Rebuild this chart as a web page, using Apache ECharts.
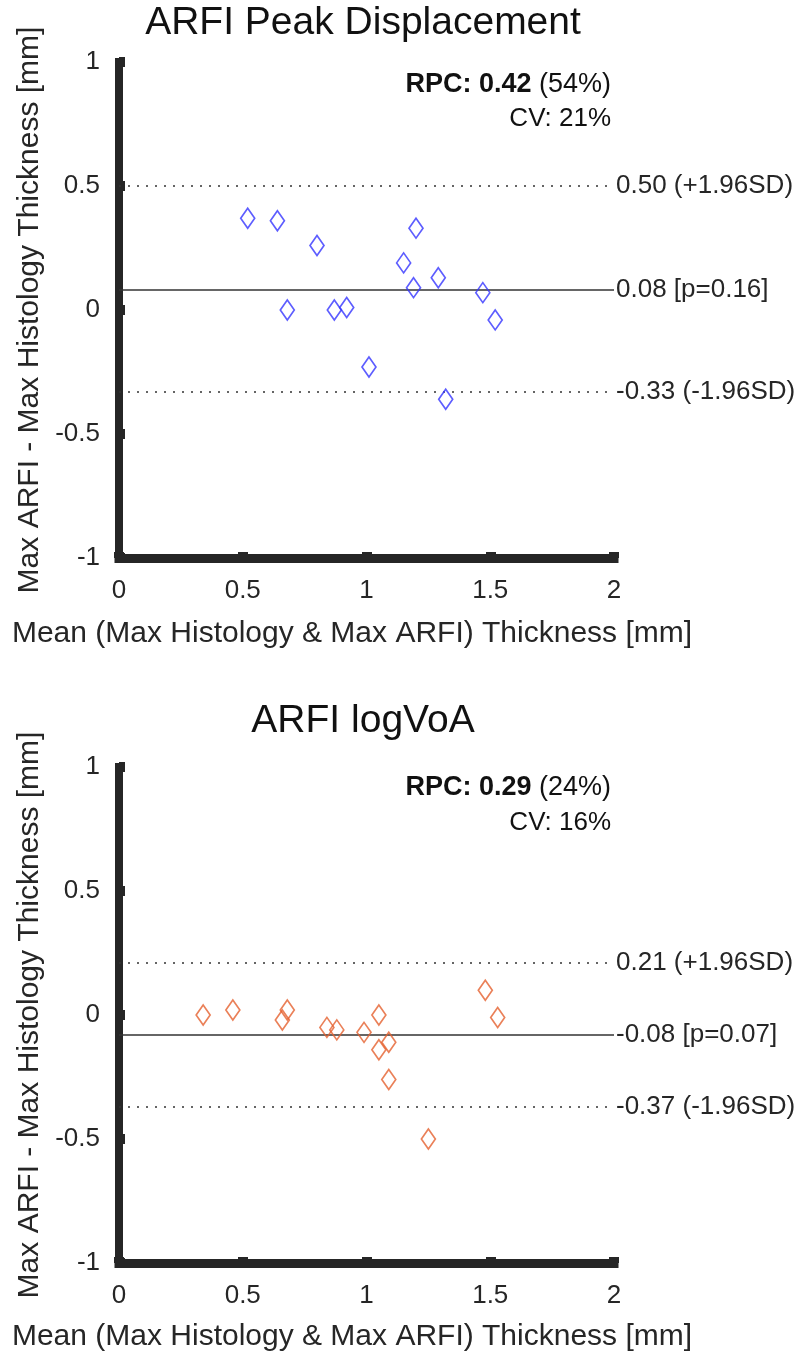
<!DOCTYPE html>
<html><head><meta charset="utf-8">
<script src="https://cdn.jsdelivr.net/npm/echarts@6/dist/echarts.min.js"></script>
<style>html,body{margin:0;padding:0;background:#fff}#c{width:808px;height:1359px}</style>
</head><body><div id="c"></div>
<script>
const titles = ['ARFI Peak Displacement', 'ARFI logVoA'];
const xAxisName = 'Mean (Max Histology & Max ARFI) Thickness [mm]';
const yAxisName = 'Max ARFI - Max Histology Thickness [mm]';
const xTicks = [0, 0.5, 1, 1.5, 2];
const yTicks = [-1, -0.5, 0, 0.5, 1];

const peakX = [0.52, 0.64, 0.80, 0.68, 0.87, 0.92, 1.01, 1.15, 1.20, 1.19, 1.29, 1.47, 1.52, 1.32];
const peakY = [0.37, 0.36, 0.26, 0.00, 0.00, 0.01, -0.23, 0.19, 0.33, 0.09, 0.13, 0.07, -0.04, -0.36];
const logX  = [0.34, 0.46, 0.68, 0.66, 0.84, 0.88, 0.99, 1.05, 1.09, 1.05, 1.09, 1.25, 1.48, 1.53];
const logY  = [0.00, 0.02, 0.02, -0.02, -0.05, -0.06, -0.07, 0.00, -0.11, -0.14, -0.26, -0.50, 0.10, -0.01];

const meanDiff = [0.08, -0.08];
const upperLoA = [0.50, 0.21];
const lowerLoA = [-0.33, -0.37];
const pValues  = [0.16, 0.07];
const rpc      = [0.42, 0.29];
const rpcPct   = [54, 24];
const cvPct    = [21, 16];
const colors   = ['#3535ff', '#e5602e'];

const FONT = 'Liberation Sans, Arial, sans-serif';
const INK = '#262626';
const panels = [
  { xs: peakX, ys: peakY, top: 62, titleY: 23, xNameY: 634, rpcY: 85, cvY: 119 },
  { xs: logX,  ys: logY,  top: 767, titleY: 721, xNameY: 1337, rpcY: 788, cvY: 823 }
];

const grids = [], xAxes = [], yAxes = [], series = [], graphics = [];
panels.forEach((p, i) => {
  grids.push({ left: 119, top: p.top, width: 495, height: 496 });
  xAxes.push({
    gridIndex: i, type: 'value', min: xTicks[0], max: xTicks[xTicks.length - 1], interval: 0.5,
    axisLine: { show: true, onZero: false, lineStyle: { color: INK, width: 9, cap: 'square' } },
    axisTick: { show: true, inside: true, length: 6, lineStyle: { color: INK, width: 10 } },
    axisLabel: { fontSize: 26, color: INK, fontFamily: FONT, margin: 20 },
    splitLine: { show: false }
  });
  yAxes.push({
    gridIndex: i, type: 'value', min: yTicks[0], max: yTicks[yTicks.length - 1], interval: 0.5,
    name: yAxisName, nameLocation: 'middle', nameGap: 72,
    nameTextStyle: { fontSize: 30, color: INK, fontFamily: FONT },
    axisLine: { show: true, onZero: false, lineStyle: { color: INK, width: 8, cap: 'square' } },
    axisTick: { show: true, inside: true, length: 6, lineStyle: { color: INK, width: 10 } },
    axisLabel: { fontSize: 26, color: INK, fontFamily: FONT, margin: 19 },
    splitLine: { show: false }
  });
  const dotted = { type: [2, 7], width: 1.6, color: '#333' };
  series.push({
    type: 'scatter', xAxisIndex: i, yAxisIndex: i,
    data: p.xs.map((x, k) => [x, p.ys[k]]),
    symbol: 'diamond', symbolSize: [14, 20],
    itemStyle: { color: 'rgba(0,0,0,0)', borderColor: colors[i], borderWidth: 1.7 },
    z: 5,
    markLine: {
      silent: true, symbol: 'none', animation: false,
      label: { position: 'end', distance: 2, fontSize: 26, color: INK, fontFamily: FONT },
      data: [
        { yAxis: upperLoA[i], lineStyle: dotted, label: { formatter: upperLoA[i].toFixed(2) + ' (+1.96SD)' } },
        { yAxis: meanDiff[i], lineStyle: { type: 'solid', width: 1.6, color: '#333' }, label: { formatter: meanDiff[i].toFixed(2) + ' [p=' + pValues[i].toFixed(2) + ']' } },
        { yAxis: lowerLoA[i], lineStyle: dotted, label: { formatter: lowerLoA[i].toFixed(2) + ' (-1.96SD)' } }
      ]
    }
  });
  graphics.push({
    type: 'text', x: 363, y: p.titleY,
    style: { text: titles[i], fontSize: 39, fontFamily: FONT, fill: '#111', align: 'center', verticalAlign: 'middle' }
  });
  graphics.push({
    type: 'text', x: 352, y: p.xNameY,
    style: { text: xAxisName, fontSize: 30, fontFamily: FONT, fill: INK, align: 'center', verticalAlign: 'middle' }
  });
  graphics.push({
    type: 'text', x: 611, y: p.rpcY,
    style: {
      text: '{b|RPC: ' + rpc[i].toFixed(2) + '} (' + rpcPct[i] + '%)',
      rich: { b: { fontWeight: 'bold', fontSize: 27, fontFamily: FONT, fill: '#111' } },
      fontSize: 27, fontFamily: FONT, fill: '#111', align: 'right', verticalAlign: 'middle'
    }
  });
  graphics.push({
    type: 'text', x: 611, y: p.cvY,
    style: { text: 'CV: ' + cvPct[i] + '%', fontSize: 26, fontFamily: FONT, fill: '#111', align: 'right', verticalAlign: 'middle' }
  });
});

const chart = echarts.init(document.getElementById('c'));
chart.setOption({
  animation: false,
  backgroundColor: '#fff',
  grid: grids, xAxis: xAxes, yAxis: yAxes, series: series, graphic: graphics
});
</script>
</body></html>
